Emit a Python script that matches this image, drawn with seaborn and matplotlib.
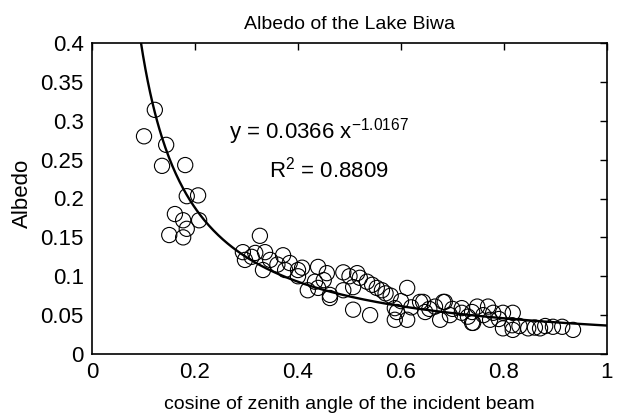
import numpy as np
import pandas as pd
import matplotlib
matplotlib.use("Agg")
import matplotlib.pyplot as plt
import seaborn as sns

# cosine of zenith angle and albedo
cos_zenith = [0.101, 0.122, 0.136, 0.144, 0.150, 0.161, 0.177, 0.177, 0.181, 0.184, 0.184,
              0.206, 0.208, 0.293, 0.297, 0.310, 0.317, 0.326, 0.332, 0.336, 0.346, 0.360,
              0.371, 0.375, 0.384, 0.400, 0.400, 0.408, 0.419, 0.433, 0.439, 0.439, 0.450,
              0.456, 0.462, 0.462, 0.488, 0.488, 0.500, 0.507, 0.507, 0.515, 0.520, 0.534,
              0.540, 0.544, 0.553, 0.563, 0.570, 0.580, 0.588, 0.588, 0.592, 0.600, 0.612,
              0.612, 0.620, 0.637, 0.643, 0.647, 0.655, 0.666, 0.676, 0.682, 0.685, 0.695,
              0.700, 0.718, 0.718, 0.730, 0.738, 0.738, 0.740, 0.748, 0.760, 0.769, 0.773,
              0.779, 0.790, 0.798, 0.798, 0.816, 0.817, 0.817, 0.830, 0.847, 0.860, 0.870,
              0.880, 0.895, 0.913, 0.934]
albedo = [0.280, 0.314, 0.242, 0.269, 0.153, 0.180, 0.172, 0.150, 0.243, 0.203, 0.161,
          0.204, 0.172, 0.131, 0.121, 0.125, 0.130, 0.152, 0.108, 0.131, 0.121, 0.115,
          0.127, 0.108, 0.117, 0.108, 0.100, 0.111, 0.082, 0.093, 0.112, 0.085, 0.095,
          0.104, 0.076, 0.072, 0.105, 0.082, 0.100, 0.086, 0.057, 0.104, 0.098, 0.093,
          0.050, 0.089, 0.085, 0.082, 0.078, 0.075, 0.059, 0.044, 0.054, 0.068, 0.085,
          0.044, 0.060, 0.067, 0.067, 0.054, 0.058, 0.061, 0.044, 0.067, 0.067, 0.050,
          0.058, 0.059, 0.053, 0.048, 0.054, 0.040, 0.040, 0.061, 0.050, 0.061, 0.044,
          0.053, 0.045, 0.053, 0.033, 0.037, 0.053, 0.031, 0.036, 0.033, 0.034, 0.033,
          0.036, 0.035, 0.035, 0.031]

coef_a = 0.0366
coef_b = -1.0167
x_ticks = [0, 0.2, 0.4, 0.6, 0.8, 1]
x_ticklabels = ["0", "0.2", "0.4", "0.6", "0.8", "1"]
y_ticks = [0, 0.05, 0.1, 0.15, 0.2, 0.25, 0.3, 0.35, 0.4]
y_ticklabels = ["0", "0.05", "0.1", "0.15", "0.2", "0.25", "0.3", "0.35", "0.4"]

sns.set_style("white")
plt.rcParams['font.family'] = ['Liberation Sans', 'DejaVu Sans']
plt.rcParams['mathtext.fontset'] = 'custom'
plt.rcParams['mathtext.rm'] = 'Liberation Sans'
plt.rcParams['mathtext.it'] = 'Liberation Sans'
plt.rcParams['text.color'] = 'black'
plt.rcParams['axes.labelcolor'] = 'black'
plt.rcParams['axes.titlecolor'] = 'black'

fig = plt.figure(figsize=(6.23, 4.2), dpi=100)
ax = fig.add_axes([92/623, 1-354/420, 515/623, 311/420])

df = pd.DataFrame({"x": cos_zenith, "y": albedo})
sns.scatterplot(data=df, x="x", y="y", ax=ax, s=120, facecolor="none",
                edgecolor="black", linewidth=0.8, marker="o", zorder=2)

xf = np.linspace(0.09, 1.0, 400)
fit = pd.DataFrame({"x": xf, "y": coef_a * xf ** coef_b})
sns.lineplot(data=fit, x="x", y="y", ax=ax, color="black", linewidth=1.7, zorder=3)

ax.set_xlim(0, 1)
ax.set_ylim(0, 0.4)
ax.set_xticks(x_ticks)
ax.set_xticklabels(x_ticklabels)
ax.set_yticks(y_ticks)
ax.set_yticklabels(y_ticklabels)
ax.tick_params(direction="in", length=5, width=1, top=True, right=True,
               labelsize=16, colors="black", pad=6)
for sp in ax.spines.values():
    sp.set_visible(True)
    sp.set_color("black")
    sp.set_linewidth(1.2)

ax.set_xlabel("cosine of zenith angle of the incident beam", fontsize=14,
              labelpad=9, color="black")
ax.set_ylabel("Albedo", fontsize=16, color="black")
ax.yaxis.set_label_coords(-0.115, 0.518)
ax.set_title("Albedo of the Lake Biwa", fontsize=14, pad=10, color="black")

ax.text(0.266, 0.2855, r"y = 0.0366 x$^{-1.0167}$", fontsize=16, va="center",
        ha="left", color="black")
ax.text(0.344, 0.2367, r"R$^2$ = 0.8809", fontsize=16, va="center", ha="left",
        color="black")

fig.savefig("out.png", dpi=100)
